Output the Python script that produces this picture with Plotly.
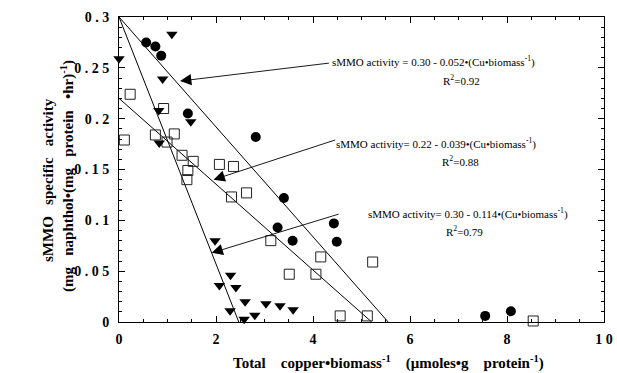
import plotly.graph_objects as go

# ---- data ----
circ_x = [0.56, 0.75, 0.87, 1.42, 2.82, 3.40, 3.27, 3.58, 4.43, 4.49, 7.55, 8.08]
circ_y = [0.275, 0.271, 0.262, 0.205, 0.182, 0.122, 0.093, 0.080, 0.097, 0.079, 0.006, 0.0105]

tri_x = [0.0, 1.09, 0.90, 0.82, 1.48, 0.83, 1.98, 2.30, 2.07, 2.41, 2.60, 3.03, 3.32, 3.59, 2.29, 2.80, 2.58]
tri_y = [0.259, 0.283, 0.239, 0.208, 0.197, 0.176, 0.080, 0.046, 0.036, 0.034, 0.020, 0.018, 0.016, 0.012, 0.011, 0.0066, 0.0027]

sq_x = [0.23, 0.11, 0.92, 0.75, 1.14, 0.99, 1.30, 1.53, 1.42, 1.40, 2.07, 2.36, 2.32, 2.63, 3.13, 4.16, 3.51, 4.06, 5.23, 4.56, 5.12, 8.54]
sq_y = [0.224, 0.179, 0.210, 0.184, 0.185, 0.177, 0.164, 0.158, 0.149, 0.140, 0.155, 0.153, 0.123, 0.127, 0.080, 0.064, 0.047, 0.047, 0.059, 0.006, 0.006, 0.001]

fit1_x = [0, 5.55]
fit1_y = [0.30, 0]
fit2_x = [0, 5.21]
fit2_y = [0.22, 0]
fit3_x = [0, 2.47]
fit3_y = [0.30, 0]

eq_text = ["sMMO activity = 0.30 - 0.052•(Cu•biomass<sup>-1</sup>)",
           "sMMO activity= 0.22 - 0.039•(Cu•biomass<sup>-1</sup>)",
           "sMMO activity= 0.30 - 0.114•(Cu•biomass<sup>-1</sup>)"]
r2_text = ["R<sup>2</sup>=0.92", "R<sup>2</sup>=0.88", "R<sup>2</sup>=0.79"]
arrow_tip_x = [1.26, 1.95, 1.91]
arrow_tip_y = [0.237, 0.140, 0.068]
arrow_tail_x = [4.39, 4.52, 4.59]
arrow_tail_y = [0.255, 0.180, 0.107]

NB = "\u00a0"
y_ticks = [0, 0.05, 0.1, 0.15, 0.2, 0.25, 0.3]
y_labels = ["0", "0.05", "0.1", "0.15", "0.2", "0.25", "0.3"]
x_ticks = [0, 2, 4, 6, 8, 10]
x_labels = ["0", "2", "4", "6", "8", "10"]
# the reference prints tick labels letter-spaced
y_ticktext = [NB.join(list(s)) for s in y_labels]
x_ticktext = [NB.join(list(s)) for s in x_labels]

SERIF = "Liberation Serif, Times New Roman, serif"

fig = go.Figure()
for fx, fy in [(fit1_x, fit1_y), (fit2_x, fit2_y), (fit3_x, fit3_y)]:
    fig.add_trace(go.Scatter(x=fx, y=fy, mode="lines",
                             line=dict(color="black", width=1), showlegend=False))

fig.add_trace(go.Scatter(x=sq_x, y=sq_y, mode="markers", cliponaxis=False,
                         marker=dict(symbol="square-open", size=10, color="#222",
                                     line=dict(width=1, color="#222")), showlegend=False))
fig.add_trace(go.Scatter(x=circ_x, y=circ_y, mode="markers", cliponaxis=False,
                         marker=dict(symbol="circle", size=10, color="black"), showlegend=False))
fig.add_trace(go.Scatter(x=tri_x, y=tri_y, mode="markers", cliponaxis=False,
                         marker=dict(symbol="triangle-down", size=10, color="black"), showlegend=False))

L, R, T, B = 119, 13, 17, 51
W, H = 617, 373
PW = W - L - R
PH = H - T - B

def px(xp):
    return (xp - L) / PW

def py(yp):
    return 1 - (yp - T) / PH

annotations = []
eq_pos = [(433, 62), (436, 143), (468, 213)]
r2_pos = [(461, 80), (460, 161), (464, 231)]
for i in range(3):
    annotations.append(dict(x=arrow_tip_x[i], y=arrow_tip_y[i], xref="x", yref="y",
                            ax=arrow_tail_x[i], ay=arrow_tail_y[i], axref="x", ayref="y",
                            text=" ", showarrow=True, arrowhead=2, arrowsize=2.5,
                            arrowwidth=0.9, arrowcolor="black"))
    annotations.append(dict(x=px(eq_pos[i][0]), y=py(eq_pos[i][1]), xref="paper", yref="paper",
                            text=eq_text[i], showarrow=False, xanchor="center", yanchor="middle",
                            font=dict(family=SERIF, size=11, color="black")))
    annotations.append(dict(x=px(r2_pos[i][0]), y=py(r2_pos[i][1]), xref="paper", yref="paper",
                            text=r2_text[i], showarrow=False, xanchor="center", yanchor="middle",
                            font=dict(family=SERIF, size=11, color="black")))

G = NB * 3
G4 = NB * 4
# axis titles
annotations.append(dict(x=px(48), y=py(180), xref="paper", yref="paper", textangle=-90,
                        text="<b>sMMO" + G + "specific" + G + "activity</b>", showarrow=False,
                        xanchor="center", yanchor="middle",
                        font=dict(family=SERIF, size=15, color="black")))
annotations.append(dict(x=px(67), y=py(176), xref="paper", yref="paper", textangle=-90,
                        text="<b>(mg" + G + "naphthol•(mg" + G + "protein" + G + "•hr)<sup>-1</sup>)</b>",
                        showarrow=False, xanchor="center", yanchor="middle",
                        font=dict(family=SERIF, size=15, color="black")))
annotations.append(dict(x=px(388), y=py(362), xref="paper", yref="paper",
                        text="<b>Total" + G4 + "copper•biomass<sup>-1</sup>" + G4 + "(μmoles•g" + G4 + "protein<sup>-1</sup>)</b>",
                        showarrow=False, xanchor="center", yanchor="middle",
                        font=dict(family=SERIF, size=15, color="black")))

axis_common = dict(showgrid=False, zeroline=False, showline=True, linecolor="black",
                   linewidth=1, mirror="allticks", ticks="inside", ticklen=6,
                   tickcolor="black", tickwidth=1,
                   tickfont=dict(family=SERIF, size=14, color="black", weight="bold"))

fig.update_layout(
    width=W, height=H,
    margin=dict(l=L, r=R, t=T, b=B, autoexpand=False),
    paper_bgcolor="white", plot_bgcolor="white",
    showlegend=False,
    annotations=annotations,
    xaxis=dict(range=[0, 10], tickvals=x_ticks, ticktext=x_ticktext,
               minor=dict(dtick=0.5, ticks="inside", ticklen=3, tickcolor="black"),
               ticklabelstandoff=4, **axis_common),
    yaxis=dict(range=[0, 0.3], tickvals=y_ticks, ticktext=y_ticktext,
               minor=dict(dtick=0.01, ticks="inside", ticklen=3, tickcolor="black"),
               ticklabelstandoff=6, **axis_common),
)

fig.write_html("out.html", config={"displayModeBar": False},
               post_script="document.body.style.margin='0';document.body.style.padding='0';")
